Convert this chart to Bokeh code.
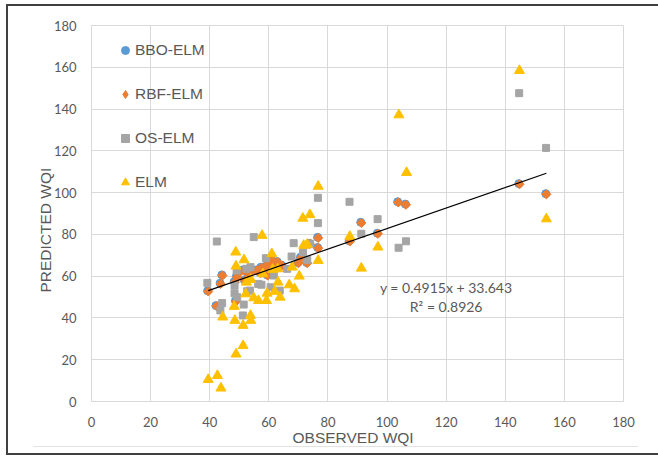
import math
from bokeh.plotting import figure
from bokeh.models import (Range1d, FixedTicker, Legend, LegendItem, Label, Title,
                          ColumnDataSource, InlineStyleSheet)
from bokeh.embed import file_html
from bokeh.resources import INLINE

# Observed vs predicted WQI for four models
rbf_obs = [39.5, 42.3, 43.7, 44.3, 48.5, 48.9, 49.2, 49.6, 51.5, 51.9, 53.0, 53.6,
           56.0, 57.2, 57.5, 58.9, 59.6, 60.0, 60.9, 61.4, 63.0, 64.5, 70.0, 70.9,
           73.0, 73.9, 76.7, 76.7, 87.4, 91.3, 96.9, 103.8, 106.4, 144.8, 153.9]
rbf_pred = [52.7, 45.6, 56.3, 60.3, 57.1, 47.9, 59.5, 61.1, 62.7, 57.9, 61.4, 61.4,
            62.7, 61.4, 64.0, 64.3, 60.3, 66.2, 68.0, 65.1, 66.7, 65.0, 66.2, 68.8,
            66.2, 75.4, 78.3, 73.4, 76.6, 85.5, 80.3, 95.3, 94.2, 104.0, 99.2]

bbo_obs = [39.3, 42.1, 43.5, 44.1, 48.3, 48.7, 49.0, 49.4, 51.3, 51.7, 52.8, 53.4,
           55.8, 57.0, 57.3, 58.7, 59.4, 59.8, 60.7, 61.2, 62.8, 64.3, 69.8, 70.7,
           72.8, 73.7, 76.5, 76.5, 87.2, 91.1, 96.7, 103.6, 106.2, 144.6, 153.7]
bbo_pred = [53.0, 45.9, 56.6, 60.6, 57.4, 48.2, 59.8, 61.4, 63.0, 58.2, 61.7, 61.7,
            63.0, 61.7, 64.3, 64.6, 60.6, 66.5, 68.3, 65.4, 67.0, 65.3, 66.5, 69.1,
            66.5, 75.7, 78.6, 73.7, 76.9, 85.8, 80.6, 95.6, 94.5, 104.3, 99.5]

os_obs = [39.2, 42.4, 44.2, 43.6, 48.4, 48.4, 49.1, 49.3, 51.5, 51.2, 52.4, 52.7,
          53.8, 53.6, 54.9, 56.4, 57.5, 59.0, 60.6, 61.7, 63.7, 66.2, 67.7, 68.4,
          71.6, 73.0, 73.9, 76.6, 76.6, 87.3, 91.3, 96.8, 103.9, 106.4, 144.7, 153.8]
os_pred = [56.8, 76.6, 47.1, 43.6, 51.8, 55.5, 62.7, 49.9, 46.4, 41.2, 63.5, 52.8,
           64.3, 53.1, 78.7, 56.3, 55.9, 68.6, 54.7, 60.3, 53.1, 63.5, 69.4, 75.8,
           71.5, 67.8, 75.5, 85.4, 97.5, 95.6, 80.3, 87.3, 73.6, 76.7, 147.6, 121.4]

elm_obs = [39.5, 42.6, 43.8, 44.4, 48.3, 48.5, 48.9, 48.8, 48.9, 51.3, 51.3, 51.6,
           52.2, 52.4, 53.8, 53.9, 53.9, 54.9, 56.5, 57.7, 58.0, 59.2, 59.4, 61.0,
           61.3, 62.0, 63.1, 63.8, 63.0, 66.9, 67.9, 68.7, 70.3, 71.8, 73.0, 71.5,
           73.9, 76.7, 76.7, 87.4, 91.3, 96.9, 104.0, 106.6, 144.8, 153.9]
elm_pred = [10.5, 12.4, 6.4, 40.4, 45.5, 38.8, 22.7, 71.5, 64.8, 26.7, 36.4, 67.8,
            51.5, 57.1, 41.2, 38.8, 58.4, 49.6, 48.3, 79.5, 61.1, 48.3, 51.8, 70.7,
            63.2, 52.7, 57.1, 49.9, 63.5, 55.8, 64.3, 53.9, 60.0, 74.7, 75.2, 87.7,
            89.4, 103.0, 67.5, 79.0, 63.8, 73.9, 137.2, 109.6, 158.4, 87.4]

# Linear trend fitted through the model predictions
slope = 0.4915
intercept = 33.643
r_squared = 0.8926

axis_ticks = [0, 20, 40, 60, 80, 100, 120, 140, 160, 180]

GRID = "#D9D9D9"
TEXT = "#595959"

# Dark frame round the chart plus the faint chart-area rule near the bottom
frame_css = InlineStyleSheet(css="""
:host { position: relative; }
:host::after {
  content: ""; position: absolute; left: 6px; top: 4px;
  width: 660px; height: 451px; box-sizing: border-box;
  border-top: 2px solid #404040; border-left: 2px solid #404040;
  border-bottom: 2px solid #404040; pointer-events: none;
}
:host::before {
  content: ""; position: absolute; left: 33px; top: 446px;
  width: 605px; height: 0; border-top: 1px solid #E3E3E3;
  pointer-events: none; z-index: 1;
}
""")

p = figure(frame_width=532, frame_height=376, output_backend="svg",
           toolbar_location=None, x_range=Range1d(0, 180), y_range=Range1d(0, 180),
           min_border_left=91, min_border_right=35, min_border_top=25,
           min_border_bottom=58, background_fill_color="white",
           border_fill_color="white")
p.stylesheets = [frame_css]

p.outline_line_color = GRID
for ax in (p.xaxis[0], p.yaxis[0]):
    ax.ticker = FixedTicker(ticks=axis_ticks)
    ax.axis_line_color = GRID
    ax.major_tick_line_color = None
    ax.minor_tick_line_color = None
    ax.major_label_text_color = TEXT
    ax.major_label_text_font = "Lato"
    ax.major_label_text_font_size = "13px"
p.xaxis.major_label_standoff = 9
p.yaxis.major_label_standoff = 9
p.xgrid.ticker = FixedTicker(ticks=axis_ticks)
p.ygrid.ticker = FixedTicker(ticks=axis_ticks)
p.xgrid.grid_line_color = GRID
p.ygrid.grid_line_color = GRID

# Axis titles
p.add_layout(Title(text="OBSERVED WQI", align="left", offset=201,
                   text_font="Liberation Sans", text_font_size="15.5px",
                   text_font_style="normal", text_color=TEXT, standoff=-6), "below")
p.add_layout(Title(text="PREDICTED WQI", align="left", offset=109,
                   text_font="Liberation Sans", text_font_size="15.5px",
                   text_font_style="normal", text_color=TEXT, standoff=-6), "left")

r_bbo = p.scatter(bbo_obs, bbo_pred, marker="circle", size=8,
                  fill_color="#5B9BD5", line_color="#5B9BD5")
# diamond swatch for the legend, kept beneath the RBF-ELM marks
rbf_key = p.scatter(rbf_obs, rbf_pred, marker="diamond", size=6,
                    fill_color="#ED7D31", line_color="#ED7D31")
r_rbf = p.scatter(rbf_obs, rbf_pred, marker="square", angle=math.pi / 4, size=6.5,
                  fill_color="#ED7D31", line_color="#ED7D31")
r_os = p.scatter(os_obs, os_pred, marker="square", size=7,
                 fill_color="#A5A5A5", line_color="#A5A5A5")
r_elm = p.scatter(elm_obs, elm_pred, marker="triangle", size=10,
                  fill_color="#FFC000", line_color="#FFC000")

x_lo, x_hi = min(rbf_obs), max(rbf_obs)
trend = ColumnDataSource(dict(x=[x_lo, x_hi],
                              y=[slope * x_lo + intercept, slope * x_hi + intercept]))
p.line("x", "y", source=trend, line_color="black", line_width=1.2)

p.add_layout(Label(x=120, y=54.6, text=f"y = {slope}x + {intercept}",
                   text_align="center", text_baseline="alphabetic",
                   text_font="Lato", text_font_size="14px", text_color=TEXT))
p.add_layout(Label(x=120, y=45.5, text=f"R\u00b2 = {r_squared}",
                   text_align="center", text_baseline="alphabetic",
                   text_font="Lato", text_font_size="14px", text_color=TEXT))

legend = Legend(items=[LegendItem(label="BBO-ELM", renderers=[r_bbo]),
                       LegendItem(label="RBF-ELM", renderers=[rbf_key]),
                       LegendItem(label="OS-ELM", renderers=[r_os]),
                       LegendItem(label="ELM", renderers=[r_elm])],
                location=(24, 209), margin=0, padding=0, spacing=24,
                glyph_width=20, glyph_height=20, label_height=20,
                label_standoff=-2, label_text_font="Liberation Sans",
                label_text_font_size="15.5px", label_text_color=TEXT,
                border_line_alpha=0, background_fill_alpha=0)
p.add_layout(legend)

open("out.html", "w").write(file_html(p, INLINE))
